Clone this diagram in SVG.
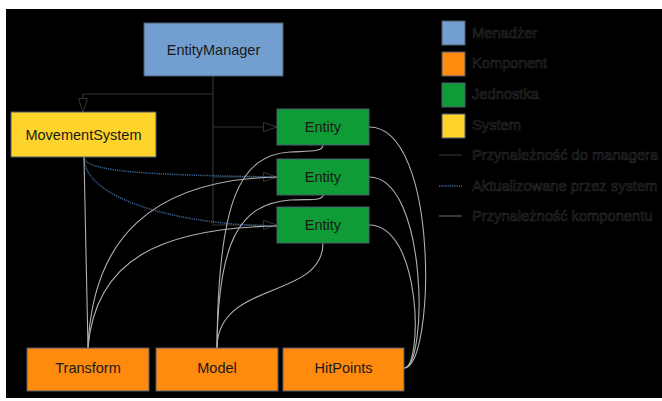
<svg xmlns="http://www.w3.org/2000/svg" width="662" height="401" viewBox="0 0 662 401">
<defs>
<style>
.node{stroke:#4d5f73;stroke-width:1}
.lbl{font-family:"Liberation Sans",Arial,sans-serif;font-size:14.5px;fill:#1a1a1a;text-anchor:middle}
.leg{font-family:"Liberation Sans",Arial,sans-serif;font-size:14.7px;fill:#030303;stroke:#2e2e2e;stroke-width:0.6}
.mgr{fill:none;stroke:#333;stroke-width:1.2}
.sys{fill:none;stroke:#3d6596;stroke-width:1.5;stroke-dasharray:1.2 1}
.cmp{fill:none;stroke:#b0b0b0;stroke-width:1.1}
.blue{fill:#729fcf}.orange{fill:#fe8a0e}.green{fill:#0f9b35}.yellow{fill:#fed32b}
</style>
<marker id="arr" viewBox="0 0 14 10" refX="14" refY="5" markerWidth="14" markerHeight="10" markerUnits="userSpaceOnUse" orient="auto">
<path d="M0.5,0.5 L14,5 L0.5,9.5 z" fill="#000" stroke="#333" stroke-width="1"/>
</marker>
</defs>
<rect x="0" y="0" width="662" height="401" fill="#fff"/>
<rect x="6" y="9" width="656" height="389" fill="#000"/>

<g id="connectors">
<path class="mgr" d="M213,76 L213,225 L277,225" marker-end="url(#arr)"/>
<path class="mgr" d="M213,94 L83,94 L83,112" marker-end="url(#arr)"/>
<path class="mgr" d="M213,127 L277,127" marker-end="url(#arr)"/>
<path class="mgr" d="M213,177 L277,177" marker-end="url(#arr)"/>
<path class="sys" d="M84,157 C84,172 150,175 277,177"/>
<path class="sys" d="M84,157 C84,200 180,225 277,226"/>
<path class="cmp" d="M84,157 L88,348"/>
<path class="cmp" d="M88,348 C92,240 150,180 277,177"/>
<path class="cmp" d="M88,348 C95,260 160,228 277,226"/>
<path class="cmp" d="M323,145 C323,152 310,151 290,152 C240,155 218,200 217,348"/>
<path class="cmp" d="M323,195 C323,201 310,199 290,200 C240,204 218,240 217,348"/>
<path class="cmp" d="M323,243 C323,300 217,280 217,348"/>
<path class="cmp" d="M369,127 C440,127 435,368 404,368"/>
<path class="cmp" d="M369,177 C428,177 428,368 404,368"/>
<path class="cmp" d="M369,225 C422,225 423,368 404,368"/>
</g>

<g id="entitymanager">
<rect class="node blue" x="144" y="23" width="139" height="53"/>
<text class="lbl" x="213.5" y="54.5">EntityManager</text>
</g>
<g id="movementsystem">
<rect class="node yellow" x="11" y="112" width="145" height="45"/>
<text class="lbl" x="83.5" y="139.5">MovementSystem</text>
</g>
<g id="entity1">
<rect class="node green" x="277" y="109" width="92" height="36"/>
<text class="lbl" x="323" y="132">Entity</text>
</g>
<g id="entity2">
<rect class="node green" x="277" y="159" width="92" height="36"/>
<text class="lbl" x="323" y="182">Entity</text>
</g>
<g id="entity3">
<rect class="node green" x="277" y="207" width="92" height="36"/>
<text class="lbl" x="323" y="230">Entity</text>
</g>
<g id="transform">
<rect class="node orange" x="27" y="348" width="122" height="43"/>
<text class="lbl" x="88" y="372.5">Transform</text>
</g>
<g id="model">
<rect class="node orange" x="156" y="348" width="122" height="43"/>
<text class="lbl" x="217" y="372.5">Model</text>
</g>
<g id="hitpoints">
<rect class="node orange" x="283" y="348" width="121" height="43"/>
<text class="lbl" x="343.5" y="372.5">HitPoints</text>
</g>

<g id="legend">
<rect class="node blue" x="442" y="21" width="23" height="24"/>
<rect class="node orange" x="442" y="52" width="23" height="24"/>
<rect class="node green" x="442" y="83" width="23" height="24"/>
<rect class="node yellow" x="442" y="114" width="23" height="24"/>
<text class="leg" x="472" y="37.5">Menadżer</text>
<text class="leg" x="472" y="68">Komponent</text>
<text class="leg" x="472" y="99">Jednostka</text>
<text class="leg" x="472" y="130">System</text>
<line class="mgr" x1="439" y1="155" x2="462" y2="155"/>
<line class="sys" x1="439" y1="186" x2="462" y2="186"/>
<line class="cmp" x1="439" y1="216" x2="462" y2="216" style="stroke:#666"/>
<text class="leg" x="472" y="160">Przynależność do managera</text>
<text class="leg" x="472" y="191">Aktualizowane przez system</text>
<text class="leg" x="472" y="221">Przynależność komponentu</text>
</g>
</svg>
